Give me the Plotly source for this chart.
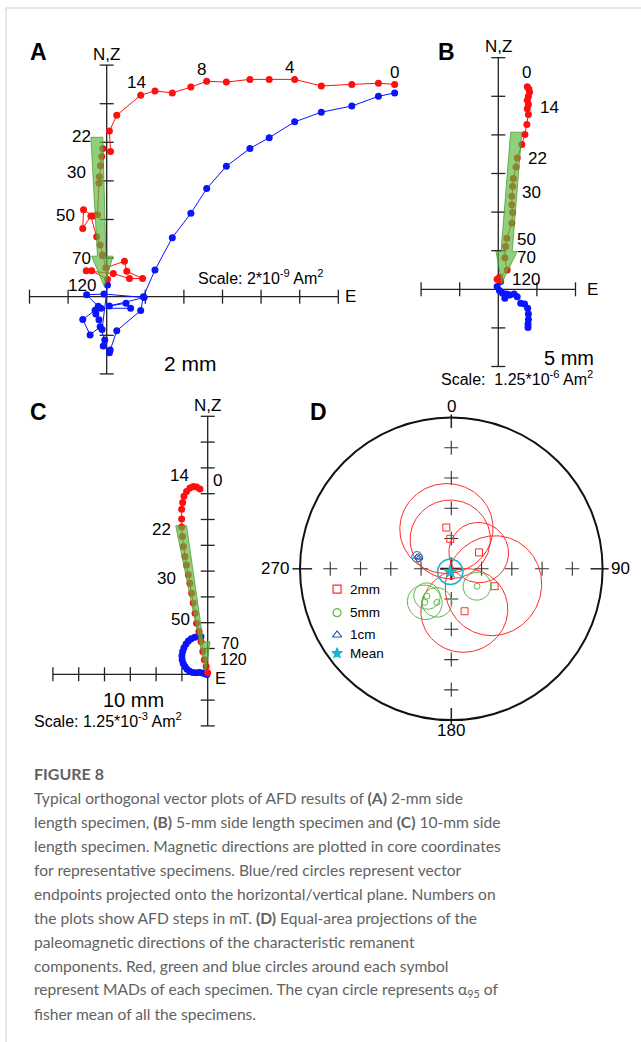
import numpy as np
import plotly.graph_objects as go

W, H = 641, 1042

# ---------------- Panel A : 2 mm specimen (AF steps) ----------------
a_vert_e = [7.46, 7.04, 6.35, 5.56, 4.87, 4.21, 3.71, 3.10, 2.59, 2.18,
            1.70, 1.25, 0.88, 0.26, 0.07, 0.10, -0.10, -0.13, -0.16, -0.19,
            -0.20, -0.24, -0.35, -0.60, -0.62, -0.41, -0.26, -0.17, -0.11, -0.02,
            0.46, 0.52, 0.93, 0.59, 0.17, -0.53, -0.39, 0.02]
a_vert_z = [5.50, 5.53, 5.50, 5.46, 5.63, 5.63, 5.63, 5.56, 5.58, 5.43,
            5.28, 5.33, 5.22, 4.70, 4.29, 3.76, 3.84, 3.63, 3.39, 3.11,
            2.94, 2.12, 2.09, 2.25, 1.77, 2.09, 1.55, 1.34, 1.08, 0.75,
            0.92, 0.66, 0.47, 0.47, 0.60, 0.67, 0.67, 0.45]
a_hor_e = [7.46, 7.04, 6.35, 5.56, 4.87, 4.21, 3.71, 3.10, 2.59, 2.18,
           1.70, 1.25, 0.95, 0.88, 0.26, 0.07, 0.09, -0.09, -0.05, -0.17,
           -0.43, -0.62, -0.30, -0.22, -0.52, -0.07, 0.97, 0.07, 0.50, 0.62,
           -0.15, -0.28, -0.20, -0.12, 0.02]
a_hor_n = [5.28, 5.19, 4.94, 4.78, 4.53, 4.12, 3.84, 3.38, 2.80, 2.16,
           1.53, 0.69, 0.00, -0.36, -0.88, -1.45, -1.38, -1.28, -1.12, -0.78,
           -0.99, -0.59, -0.35, -0.25, 0.05, 0.07, -0.02, -0.24, -0.17, -0.30,
           -0.30, -0.45, -0.60, -0.85, 0.30]
a_fit_x = [-0.41, -0.10, -0.02, 0.16, -0.06, -0.39, -0.24, -0.41]
a_fit_y = [4.13, 4.13, 1.05, 1.05, 0.26, 1.05, 1.05, 4.13]
a_steps = ["0", "4", "8", "14", "22", "30", "50", "70", "120"]
a_step_x = [7.46, 4.74, 2.46, 0.76, -0.65, -0.78, -1.08, -0.65, -0.65]
a_step_y = [5.82, 5.95, 5.88, 5.56, 4.16, 3.23, 2.11, 0.99, 0.30]

# ---------------- Panel B : 5 mm specimen ----------------
b_vert_e = [0.75, 0.79, 0.81, 0.78, 0.75, 0.78, 0.75, 0.78, 0.74, 0.69,
            0.61, 0.49, 0.46, 0.39, 0.37, 0.35, 0.35, 0.37, 0.35, 0.22,
            0.19, 0.17, 0.23, 0.03, -0.03, 0.06]
b_vert_z = [5.25, 5.19, 5.11, 5.00, 4.90, 4.79, 4.68, 4.53, 4.27, 4.01,
            3.75, 3.40, 3.17, 2.87, 2.67, 2.41, 2.19, 1.99, 1.71, 1.32,
            1.11, 0.82, 0.50, 0.31, 0.26, 0.23]
b_hor_e = [0.06, -0.03, 0.03, 0.11, 0.22, 0.17, 0.30, 0.41, 0.49, 0.58,
           0.68, 0.76, 0.78, 0.78, 0.77, 0.77]
b_hor_n = [0.20, 0.07, -0.03, -0.10, -0.12, -0.23, -0.15, -0.12, -0.19, -0.36,
           -0.38, -0.49, -0.64, -0.78, -0.90, -0.99]
b_fit_x = [0.32, 0.61, 0.36, 0.49, 0.09, -0.06, 0.07, 0.32]
b_fit_y = [4.07, 4.07, 0.98, 0.98, 0.16, 0.98, 0.98, 4.07]
b_steps = ["0", "14", "22", "30", "50", "70", "120"]
b_step_x = [0.72, 1.04, 0.72, 0.55, 0.42, 0.42, 0.30]
b_step_y = [5.61, 4.70, 3.40, 2.52, 1.30, 0.82, 0.26]

# ---------------- Panel C : 10 mm specimen ----------------
c_vert_e = [-0.30, -0.43, -0.56, -0.69, -0.82, -0.92, -0.97, -1.01, -1.01, -1.01,
            -0.98, -0.94, -0.88, -0.82, -0.75, -0.69, -0.62, -0.56, -0.49, -0.43,
            -0.34, -0.26, -0.19, -0.13, -0.06, 0.00]
c_vert_z = [7.18, 7.26, 7.28, 7.22, 7.09, 6.90, 6.66, 6.40, 6.02, 5.71,
            5.34, 4.95, 4.57, 4.24, 3.86, 3.53, 3.14, 2.76, 2.37, 1.98,
            1.66, 1.27, 0.88, 0.56, 0.30, 0.06]
c_hor_e = [-0.26, -0.36, -0.50, -0.64, -0.75, -0.84, -0.92, -0.97, -1.00, -0.99,
           -0.95, -0.88, -0.80, -0.70, -0.58, -0.45, -0.32, -0.20, -0.10, -0.03]
c_hor_n = [1.46, 1.47, 1.44, 1.38, 1.29, 1.17, 1.03, 0.88, 0.72, 0.56,
           0.42, 0.30, 0.20, 0.12, 0.07, 0.06, 0.07, 0.05, 0.02, -0.01]
c_fit_x = [-1.24, -0.82, -0.17, 0.09, -0.08, -1.24]
c_fit_y = [5.76, 5.76, 1.26, 1.26, 0.08, 5.76]
c_steps = ["14", "0", "22", "30", "50"]
c_step_x = [-1.10, 0.375, -1.79, -1.59, -1.05]
c_step_y = [7.70, 7.52, 5.60, 3.73, 2.13]
c_steps_r = ["70", "120"]
c_step_r_x = [0.45, 0.41]
c_step_r_y = [1.20, 0.56]

# ---------------- Panel D : ChRM directions (dec, inc, MAD in degrees) ----------------
d2_dec = [353.1, 358.0, 59.4, 111.9, 162.6]
d2_inc = [67.6, 73.9, 72.7, 64.8, 66.0]
d2_mad = [24.7, 21.4, 16.1, 26.5, 23.0]
d5_dec = [124.1, 221.7, 203.2, 218.4]
d5_inc = [73.3, 70.3, 70.3, 66.9]
d5_mad = [7.5, 7.1, 8.0, 9.3]
d10_dec = [289.2, 288.8]
d10_inc = [70.4, 71.6]
d10_mad = [2.8, 2.1]
mean_dec = [199.0]
mean_inc = [88.3]
mean_a95 = [6.8]

RED = "#ff1010"
BLUE = "#0a14ff"
FIT_FILL = "rgba(92,186,62,0.68)"
FIT_LINE = "rgba(70,150,45,0.9)"
AX = "#222222"
FONT = "Liberation Sans, Arial, sans-serif"


def eq_area(dec, inc):
    d = np.radians(np.asarray(dec, float))
    i = np.radians(np.asarray(inc, float))
    r = np.sqrt(1.0 - np.sin(i))
    return r * np.sin(d), r * np.cos(d)


def small_circle(dec, inc, radius, n=181):
    d, i, a = np.radians(dec), np.radians(inc), np.radians(radius)
    c = np.array([np.cos(i) * np.cos(d), np.cos(i) * np.sin(d), np.sin(i)])
    ref = np.array([0.0, 0.0, 1.0]) if abs(c[2]) < 0.99 else np.array([1.0, 0.0, 0.0])
    u = np.cross(c, ref); u /= np.linalg.norm(u)
    v = np.cross(c, u)
    t = np.linspace(0, 2 * np.pi, n)
    pts = (np.cos(a) * c[:, None] + np.sin(a) * (np.cos(t) * u[:, None] + np.sin(t) * v[:, None]))
    nn, ee, zz = pts
    h = np.hypot(nn, ee)
    r = np.sqrt(np.clip(1.0 - zz, 0, None))
    return r * ee / h, r * nn / h


def axis_pair(box, origin, unit):
    l, t, r, b = box
    ox, oy = origin
    xa = dict(domain=[l / W, r / W], range=[(l - ox) / unit, (r - ox) / unit],
              visible=False, fixedrange=True)
    ya = dict(domain=[1 - b / H, 1 - t / H], range=[(oy - b) / unit, (oy - t) / unit],
              visible=False, fixedrange=True)
    return xa, ya


fig = go.Figure()


def zijderveld(hx, hy, xticks, yticks, ve, vz, he, hn, fx, fy, ref):
    xs, ys = ref
    fig.add_trace(go.Scatter(x=hx, y=[0, 0], mode="lines", line=dict(color=AX, width=1.3),
                             xaxis=xs, yaxis=ys, hoverinfo="skip"))
    fig.add_trace(go.Scatter(x=[0, 0], y=hy, mode="lines", line=dict(color=AX, width=1.3),
                             xaxis=xs, yaxis=ys, hoverinfo="skip"))
    fig.add_trace(go.Scatter(x=xticks, y=[0] * len(xticks), mode="markers",
                             marker=dict(symbol="line-ns", size=10, line=dict(color=AX, width=1.3)),
                             xaxis=xs, yaxis=ys, hoverinfo="skip"))
    fig.add_trace(go.Scatter(x=[0] * len(yticks), y=yticks, mode="markers",
                             marker=dict(symbol="line-ew", size=10, line=dict(color=AX, width=1.3)),
                             xaxis=xs, yaxis=ys, hoverinfo="skip"))
    fig.add_trace(go.Scatter(x=he, y=hn, mode="lines+markers", line=dict(color=BLUE, width=1),
                             marker=dict(color=BLUE, size=7), xaxis=xs, yaxis=ys))
    fig.add_trace(go.Scatter(x=ve, y=vz, mode="lines+markers", line=dict(color=RED, width=1),
                             marker=dict(color=RED, size=7), xaxis=xs, yaxis=ys))
    fig.add_trace(go.Scatter(x=fx, y=fy, mode="lines", fill="toself", fillcolor=FIT_FILL,
                             line=dict(color=FIT_LINE, width=0.8), xaxis=xs, yaxis=ys,
                             hoverinfo="skip"))


# Panel A
xa1, ya1 = axis_pair((15, 35, 425, 385), (106.7, 296.7), 38.6)
zijderveld([-2, 6], [-2, 6], [-2, -1, 1, 2, 3, 4, 5, 6], [-2, -1, 1, 2, 3, 4, 5, 6],
           a_vert_e, a_vert_z, a_hor_e, a_hor_n, a_fit_x, a_fit_y, ("x", "y"))
# Panel B
xa2, ya2 = axis_pair((410, 35, 635, 390), (498.3, 289.3), 38.6)
zijderveld([-2, 2], [-2, 6], [-2, -1, 1, 2], [-2, -1, 1, 2, 3, 4, 5, 6],
           b_vert_e, b_vert_z, b_hor_e, b_hor_n, b_fit_x, b_fit_y, ("x2", "y2"))
# Panel C
xa3, ya3 = axis_pair((15, 395, 270, 745), (207.7, 674.3), 25.8)
zijderveld([-6, 0], [-2, 10], [-6, -5, -4, -3, -2, -1],
           [-2, -1, 1, 2, 3, 4, 5, 6, 7, 8, 9, 10],
           c_vert_e, c_vert_z, c_hor_e, c_hor_n, c_fit_x, c_fit_y, ("x3", "y3"))

# Panel D : equal-area net
xa4, ya4 = axis_pair((275, 395, 635, 745), (451.3, 568.8), 151.3)
rings = [0.2, 0.4, 0.6, 0.8]
cx = rings + [-r for r in rings] + [0.0] * 8
cy = [0.0] * 8 + rings + [-r for r in rings]
fig.add_trace(go.Scatter(x=cx, y=cy, mode="markers", xaxis="x4", yaxis="y4",
                         marker=dict(symbol="cross-thin", size=10, line=dict(color="#333", width=1.1)),
                         hoverinfo="skip"))
fig.add_trace(go.Scatter(x=[0], y=[0], mode="markers", xaxis="x4", yaxis="y4",
                         marker=dict(symbol="cross-thin", size=16, line=dict(color="#3a1a1a", width=2)),
                         hoverinfo="skip"))
# cardinal tick marks on the primitive
seg_x = [0, 0, None, 0, 0, None, -1.05, -0.92, None, 0.92, 1.04]
seg_y = [1.02, 0.93, None, -0.92, -1.03, None, 0, 0, None, 0, 0]
fig.add_trace(go.Scatter(x=seg_x, y=seg_y, mode="lines", xaxis="x4", yaxis="y4",
                         line=dict(color="#222", width=1.5), hoverinfo="skip"))


def net_group(decs, incs, mads, color, symbol, size, lw):
    for dd, ii, mm in zip(decs, incs, mads):
        sx, sy = small_circle(dd, ii, mm)
        fig.add_trace(go.Scatter(x=sx, y=sy, mode="lines", xaxis="x4", yaxis="y4",
                                 line=dict(color=color, width=lw), hoverinfo="skip"))
    px_, py_ = eq_area(decs, incs)
    fig.add_trace(go.Scatter(x=px_, y=py_, mode="markers", xaxis="x4", yaxis="y4",
                             marker=dict(symbol=symbol, size=size, color=color,
                                         line=dict(color=color, width=1))))


net_group(d2_dec, d2_inc, d2_mad, "#ff2a2a", "square-open", 7, 1)
net_group(d5_dec, d5_inc, d5_mad, "#5cb848", "circle-open", 6, 1)
net_group(d10_dec, d10_inc, d10_mad, "#2a5aa8", "triangle-up-open", 6, 1)
net_group(mean_dec, mean_inc, mean_a95, "#1ab4d2", "star", 10, 1.6)

# legend of panel D
leg_x = -0.755
leg_y = [-0.134, -0.290, -0.4375, -0.558]
leg_sym = ["square-open", "circle-open", "triangle-up-open", "star"]
leg_col = ["#ff2a2a", "#5cb848", "#2a5aa8", "#1ab4d2"]
leg_txt = ["2mm", "5mm", "1cm", "Mean"]
for yy, sy, cc in zip(leg_y, leg_sym, leg_col):
    fig.add_trace(go.Scatter(x=[leg_x], y=[yy], mode="markers", xaxis="x4", yaxis="y4",
                             marker=dict(symbol=sy, size=8, color=cc, line=dict(color=cc, width=1.2)),
                             hoverinfo="skip"))

shapes = [
    dict(type="circle", xref="x4", yref="y4", x0=-1, x1=1, y0=-1, y1=1,
         line=dict(color="#111", width=2)),
    dict(type="line", xref="paper", yref="paper", x0=6 / W, x1=1, y0=1 - 8 / H, y1=1 - 8 / H,
         line=dict(color="#cfcfcf", width=1)),
    dict(type="line", xref="paper", yref="paper", x0=6 / W, x1=6 / W, y0=0, y1=1 - 8 / H,
         line=dict(color="#cfcfcf", width=1)),
]

ann = []


def txt(x, y, s, xref, yref, size=17, xanchor="center", color="black", family=FONT):
    ann.append(dict(x=x, y=y, xref=xref, yref=yref, text=s, showarrow=False,
                    xanchor=xanchor, yanchor="middle",
                    font=dict(family=family, size=size, color=color)))


def ptxt(px, py, s, size=17, xanchor="center", color="black", family=FONT):
    txt(px / W, 1 - py / H, s, "paper", "paper", size, xanchor, color, family)


# panel letters
ptxt(38, 52, "<b>A</b>", 23)
ptxt(447, 52, "<b>B</b>", 23)
ptxt(38, 412, "<b>C</b>", 23)
ptxt(318, 412, "<b>D</b>", 23)

# Panel A labels
for s, x, y in zip(a_steps, a_step_x, a_step_y):
    txt(x, y, s, "x", "y")
txt(0, 6.27, "N,Z", "x", "y")
txt(6.12, 0, "E", "x", "y", xanchor="left")
txt(4.01, 0.52, "Scale: 2*10<sup>-9</sup> Am<sup>2</sup>", "x", "y", 16)
txt(2.16, -1.72, "2 mm", "x", "y", 21)

# Panel B labels
for i, (s, x, y) in enumerate(zip(b_steps, b_step_x, b_step_y)):
    txt(x, y, s, "x2", "y2", 17, "center" if i == 0 else "left")
txt(0, 6.28, "N,Z", "x2", "y2")
txt(2.25, 0, "E", "x2", "y2", xanchor="left")
txt(1.84, -1.79, "5 mm", "x2", "y2", 20)
txt(0.48, -2.31, "Scale:  1.25*10<sup>-6</sup> Am<sup>2</sup>", "x2", "y2", 16)

# Panel C labels
for s, x, y in zip(c_steps, c_step_x, c_step_y):
    txt(x, y, s, "x3", "y3")
for s, x, y in zip(c_steps_r, c_step_r_x, c_step_r_y):
    txt(x, y, s, "x3", "y3", 16, xanchor="left")
txt(0, 10.4, "N,Z", "x3", "y3")
txt(0.22, -0.14, "E", "x3", "y3", 16.5, xanchor="left")
txt(-2.88, -1.0, "10 mm", "x3", "y3", 20)
txt(-3.86, -1.77, "Scale: 1.25*10<sup>-3</sup> Am<sup>2</sup>", "x3", "y3", 16)

# Panel D labels
txt(0, 1.07, "0", "x4", "y4")
txt(0, -1.07, "180", "x4", "y4")
txt(-1.06, 0, "270", "x4", "y4", xanchor="right")
txt(1.04, 0, "90", "x4", "y4", xanchor="left")
for yy, s in zip(leg_y, leg_txt):
    txt(-0.685, yy, s, "x4", "y4", 13.5, "left")

# caption
CAP = "#626262"
CAPFONT = "Lato, Open Sans, sans-serif"
ptxt(31.5, 773, "<b>FIGURE 8</b>", 16, "left", CAP, CAPFONT)
caption = [
    "Typical orthogonal vector plots of AFD results of <b>(A)</b> 2-mm side",
    "length specimen, <b>(B)</b> 5-mm side length specimen and <b>(C)</b> 10-mm side",
    "length specimen. Magnetic directions are plotted in core coordinates",
    "for representative specimens. Blue/red circles represent vector",
    "endpoints projected onto the horizontal/vertical plane. Numbers on",
    "the plots show AFD steps in mT. <b>(D)</b> Equal-area projections of the",
    "paleomagnetic directions of the characteristic remanent",
    "components. Red, green and blue circles around each symbol",
    "represent MADs of each specimen. The cyan circle represents α<sub>95</sub> of",
    "fisher mean of all the specimens.",
]
for k, line in enumerate(caption):
    ptxt(31.5, 798.3 + 24.0 * k, line, 15.6, "left", CAP, CAPFONT)

fig.update_layout(
    width=W, height=H, margin=dict(l=0, r=0, t=0, b=0),
    paper_bgcolor="white", plot_bgcolor="white", showlegend=False,
    xaxis=xa1, yaxis=ya1, xaxis2=xa2, yaxis2=ya2,
    xaxis3=xa3, yaxis3=ya3, xaxis4=xa4, yaxis4=ya4,
    shapes=shapes, annotations=ann,
)
fig.write_html("out.html")
